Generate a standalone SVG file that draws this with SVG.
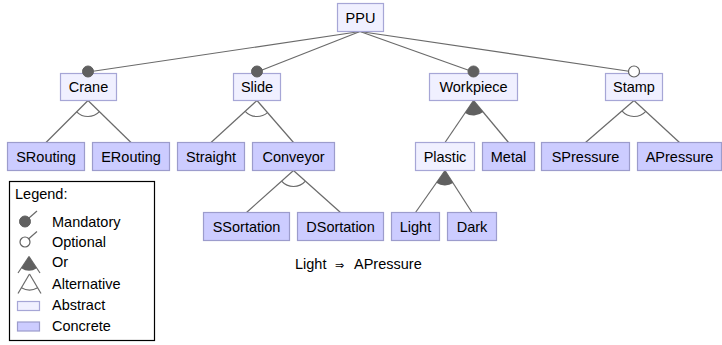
<svg xmlns="http://www.w3.org/2000/svg" width="722" height="345" viewBox="0 0 722 345">
  <style>
    text { font-family: "Liberation Sans", Arial, sans-serif; font-size: 14.5px; fill: #000; }
    .lbl { text-anchor: middle; }
    .abstract { fill: #f0f0ff; stroke: #a6a6d6; stroke-width: 1.2; }
    .concrete { fill: #ccccff; stroke: #9c9ccc; stroke-width: 1.2; }
    .edge { stroke: #6a6a6a; stroke-width: 1.2; fill: none; }
    .mand { fill: #606060; stroke: #606060; stroke-width: 1; }
    .opt { fill: #fff; stroke: #606060; stroke-width: 1.2; }
    .orfill { fill: #606060; stroke: none; }
    .alt { fill: none; stroke: #6a6a6a; stroke-width: 1.2; }
  </style>
  <rect width="722" height="345" fill="#fff"/>

  <!-- connectors -->
  <g id="connectors">
    <!-- root to first level -->
    <line class="edge" x1="360" y1="31.5" x2="88" y2="72"/>
    <line class="edge" x1="360" y1="31.5" x2="257" y2="72"/>
    <line class="edge" x1="360" y1="31.5" x2="473.5" y2="72"/>
    <line class="edge" x1="360" y1="31.5" x2="634" y2="72"/>
    <!-- Crane (alternative) -->
    <line class="edge" x1="88" y1="100.5" x2="46" y2="142.5"/>
    <line class="edge" x1="88" y1="100.5" x2="131" y2="142.5"/>
    <path class="alt" d="M76.69,111.81 A16,16 0 0 0 99.44,111.68"/>
    <!-- Slide (alternative) -->
    <line class="edge" x1="257" y1="100.5" x2="211" y2="142.5"/>
    <line class="edge" x1="257" y1="100.5" x2="293.5" y2="142.5"/>
    <path class="alt" d="M245.18,111.29 A16,16 0 0 0 267.5,112.58"/>
    <!-- Conveyor (alternative) -->
    <line class="edge" x1="293.5" y1="170.5" x2="246.5" y2="212.5"/>
    <line class="edge" x1="293.5" y1="170.5" x2="340.5" y2="212.5"/>
    <path class="alt" d="M281.57,181.16 A16,16 0 0 0 305.43,181.16"/>
    <!-- Workpiece (or) -->
    <line class="edge" x1="473.5" y1="100.5" x2="445" y2="142.5"/>
    <line class="edge" x1="473.5" y1="100.5" x2="508.5" y2="142.5"/>
    <path class="orfill" d="M473.5,100.5 L465.08,112.91 A15,15 0 0 0 483.1,112.02 Z"/>
    <!-- Plastic (or) -->
    <line class="edge" x1="445" y1="170.5" x2="415.5" y2="212.5"/>
    <line class="edge" x1="445" y1="170.5" x2="472" y2="212.5"/>
    <path class="orfill" d="M445,170.5 L436.38,182.77 A15,15 0 0 0 453.11,183.12 Z"/>
    <!-- Stamp (alternative) -->
    <line class="edge" x1="634" y1="100.5" x2="585.5" y2="142.5"/>
    <line class="edge" x1="634" y1="100.5" x2="679.5" y2="142.5"/>
    <path class="alt" d="M621.91,110.97 A16,16 0 0 0 645.76,111.35"/>
  </g>

  <!-- features -->
  <g id="PPU"><rect class="abstract" x="337.5" y="3.5" width="46" height="28"/><text class="lbl" x="360.5" y="22.5">PPU</text></g>

  <g id="Crane"><rect class="abstract" x="60.5" y="73.5" width="56" height="27"/><text class="lbl" x="88.5" y="92">Crane</text><circle class="mand" cx="88" cy="71.5" r="5.5"/></g>
  <g id="Slide"><rect class="abstract" x="233.5" y="73.5" width="47" height="27"/><text class="lbl" x="257" y="92">Slide</text><circle class="mand" cx="257" cy="71.5" r="5.5"/></g>
  <g id="Workpiece"><rect class="abstract" x="429.5" y="73.5" width="88" height="27"/><text class="lbl" x="473.5" y="92">Workpiece</text><circle class="mand" cx="473.5" cy="71.5" r="5.5"/></g>
  <g id="Stamp"><rect class="abstract" x="605.5" y="73.5" width="57" height="27"/><text class="lbl" x="634" y="92">Stamp</text><circle class="opt" cx="634" cy="71.5" r="5.5"/></g>

  <g id="SRouting"><rect class="concrete" x="7.5" y="142.5" width="77" height="28"/><text class="lbl" x="46" y="161.5">SRouting</text></g>
  <g id="ERouting"><rect class="concrete" x="92.5" y="142.5" width="77" height="28"/><text class="lbl" x="131" y="161.5">ERouting</text></g>
  <g id="Straight"><rect class="concrete" x="177.5" y="142.5" width="67" height="28"/><text class="lbl" x="211" y="161.5">Straight</text></g>
  <g id="Conveyor"><rect class="concrete" x="252.5" y="142.5" width="82" height="28"/><text class="lbl" x="293.5" y="161.5">Conveyor</text></g>
  <g id="Plastic"><rect class="abstract" x="415.5" y="142.5" width="59" height="28"/><text class="lbl" x="445" y="161.5">Plastic</text></g>
  <g id="Metal"><rect class="concrete" x="482.5" y="142.5" width="52" height="28"/><text class="lbl" x="508.5" y="161.5">Metal</text></g>
  <g id="SPressure"><rect class="concrete" x="541.5" y="142.5" width="88" height="28"/><text class="lbl" x="585.5" y="161.5">SPressure</text></g>
  <g id="APressure"><rect class="concrete" x="637.5" y="142.5" width="84" height="28"/><text class="lbl" x="679.5" y="161.5">APressure</text></g>

  <g id="SSortation"><rect class="concrete" x="203.5" y="212.5" width="86" height="28"/><text class="lbl" x="246.5" y="231.5">SSortation</text></g>
  <g id="DSortation"><rect class="concrete" x="297.5" y="212.5" width="86" height="28"/><text class="lbl" x="340.5" y="231.5">DSortation</text></g>
  <g id="Light"><rect class="concrete" x="391.5" y="212.5" width="48" height="28"/><text class="lbl" x="415.5" y="231.5">Light</text></g>
  <g id="Dark"><rect class="concrete" x="447.5" y="212.5" width="49" height="28"/><text class="lbl" x="472" y="231.5">Dark</text></g>

  <!-- cross-tree constraint -->
  <g id="constraint">
    <text y="269"><tspan x="295">Light</tspan><tspan x="335" font-size="11" font-family="DejaVu Sans, sans-serif">⇒</tspan><tspan x="354">APressure</tspan></text>
  </g>

  <!-- legend -->
  <g id="legend">
    <rect x="9.5" y="181.5" width="145" height="159" fill="#fff" stroke="#000" stroke-width="1.2"/>
    <text x="15" y="198.5">Legend:</text>
    <line class="edge" x1="25" y1="221.5" x2="37" y2="211"/>
    <circle class="mand" cx="25" cy="221.5" r="5.5"/>
    <text x="52" y="226.5">Mandatory</text>
    <line class="edge" x1="25" y1="242" x2="37" y2="231.5"/>
    <circle class="opt" cx="25" cy="242" r="5"/>
    <text x="52" y="247">Optional</text>
    <line class="edge" x1="29" y1="256.5" x2="18" y2="273"/>
    <line class="edge" x1="29" y1="256.5" x2="40" y2="273"/>
    <path class="orfill" d="M29,256.5 L21.23,268.15 A14,14 0 0 0 36.77,268.15 Z"/>
    <text x="52" y="267">Or</text>
    <line class="edge" x1="29.5" y1="274" x2="18" y2="293.5"/>
    <line class="edge" x1="29.5" y1="274" x2="41" y2="293.5"/>
    <path class="alt" d="M21.37,287.78 A16,16 0 0 0 37.63,287.78"/>
    <text x="52" y="288.5">Alternative</text>
    <rect class="abstract" x="17.5" y="301.5" width="22" height="9"/>
    <text x="52" y="310">Abstract</text>
    <rect class="concrete" x="17.5" y="322" width="22" height="9"/>
    <text x="52" y="331">Concrete</text>
  </g>
</svg>
